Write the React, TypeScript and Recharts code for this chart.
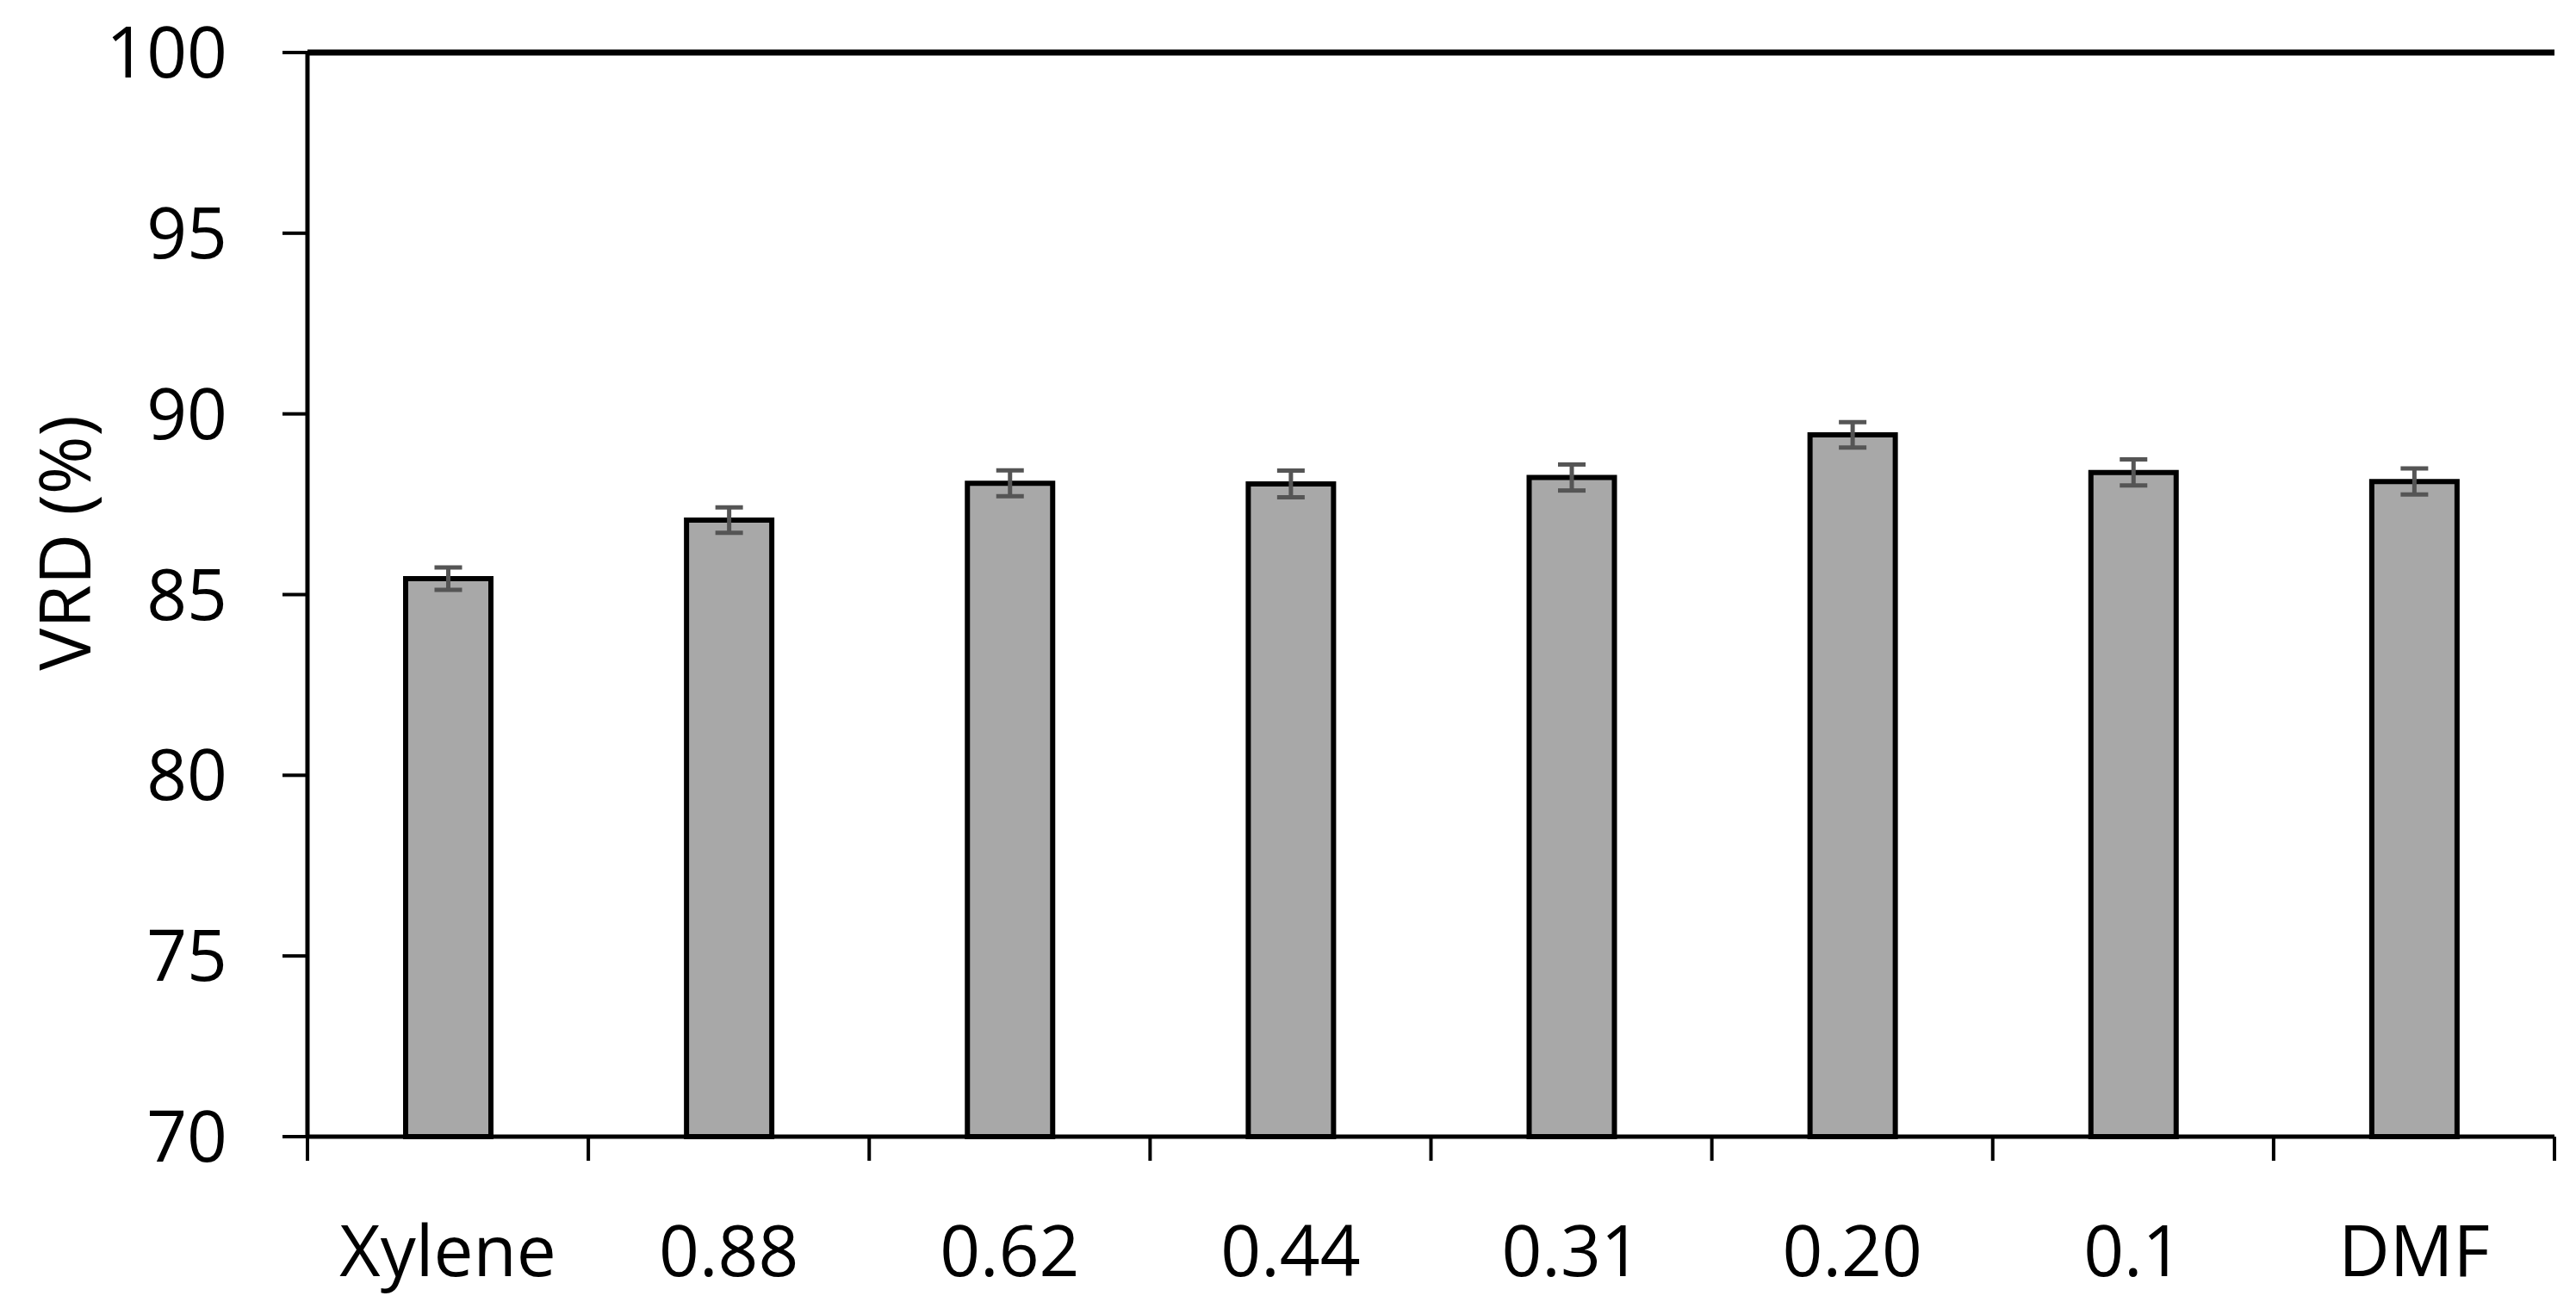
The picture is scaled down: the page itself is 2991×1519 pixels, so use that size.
import { Bar, BarChart, ErrorBar, ReferenceLine, XAxis, YAxis } from "recharts";

const categories = ["Xylene", "0.88", "0.62", "0.44", "0.31", "0.20", "0.1", "DMF"];
const vrd = [85.44, 87.06, 88.08, 88.06, 88.24, 89.42, 88.38, 88.13];
const vrdError = [0.31, 0.35, 0.36, 0.37, 0.36, 0.35, 0.36, 0.36];
const yTicks = [70, 75, 80, 85, 90, 95, 100];

const data = categories.map((name, i) => ({ name, vrd: vrd[i], err: vrdError[i] }));

const FONT = "'Open Sans', sans-serif";
const FONT_SIZE = 82;
const AXIS_WIDTH = 5;

// x labels plus tick marks on the category boundaries (Excel style)
function CategoryTick(props: any) {
  const { x, y, payload, index } = props;
  const half = payload?.offset ?? 0;
  const isLast = index === categories.length - 1;
  return (
    <g>
      <line x1={x - half} x2={x - half} y1={y} y2={y + 28} stroke="#000" strokeWidth={4} />
      {isLast && (
        <line x1={x + half} x2={x + half} y1={y} y2={y + 28} stroke="#000" strokeWidth={4} />
      )}
      <text
        x={x}
        y={y + 162}
        textAnchor="middle"
        fill="#000"
        fontSize={FONT_SIZE}
        fontFamily={FONT}
      >
        {payload.value}
      </text>
    </g>
  );
}

function AxisTitle(props: any) {
  const vb = props.viewBox ?? { x: 0, y: 0, width: 0, height: 0 };
  const cx = vb.x + 73;
  const cy = vb.y + vb.height / 2 - 60;
  return (
    <text
      x={cx}
      y={cy}
      transform={`rotate(-90, ${cx}, ${cy})`}
      textAnchor="middle"
      dominantBaseline="central"
      fill="#000"
      fontSize={FONT_SIZE}
      fontFamily={FONT}
    >
      VRD (%)
    </text>
  );
}

export default function App() {
  return (
    <div style={{ position: "absolute", left: 0, top: 0, background: "#fff" }}>
      <BarChart
        width={2991}
        height={1519}
        data={data}
        margin={{ top: 61, right: 25, left: 0, bottom: 0 }}
      >
        <XAxis
          dataKey="name"
          height={199}
          interval={0}
          tickLine={false}
          tickSize={0}
          tickMargin={0}
          axisLine={{ stroke: "#000", strokeWidth: AXIS_WIDTH }}
          tick={<CategoryTick />}
        />
        <YAxis
          yAxisId="left"
          width={357}
          domain={[70, 100]}
          ticks={yTicks}
          interval={0}
          tickSize={29}
          tickMargin={64}
          tick={{ fill: "#000", fontSize: FONT_SIZE, fontFamily: FONT }}
          tickLine={{ stroke: "#000", strokeWidth: 4 }}
          axisLine={{ stroke: "#000", strokeWidth: AXIS_WIDTH }}
          label={<AxisTitle />}
        />
        <YAxis
          yAxisId="right"
          orientation="right"
          width={0}
          domain={[70, 100]}
          tick={false}
          tickLine={false}
          axisLine={{ stroke: "#000", strokeWidth: 6 }}
        />
        <ReferenceLine yAxisId="left" y={100} stroke="#000" strokeWidth={7} />
        <Bar
          yAxisId="left"
          dataKey="vrd"
          fill="#a8a8a8"
          stroke="#000"
          strokeWidth={6}
          barSize={99}
          isAnimationActive={false}
        >
          <ErrorBar
            dataKey="err"
            direction="y"
            width={16}
            stroke="#555555"
            strokeWidth={5}
            isAnimationActive={false}
          />
        </Bar>
      </BarChart>
    </div>
  );
}
